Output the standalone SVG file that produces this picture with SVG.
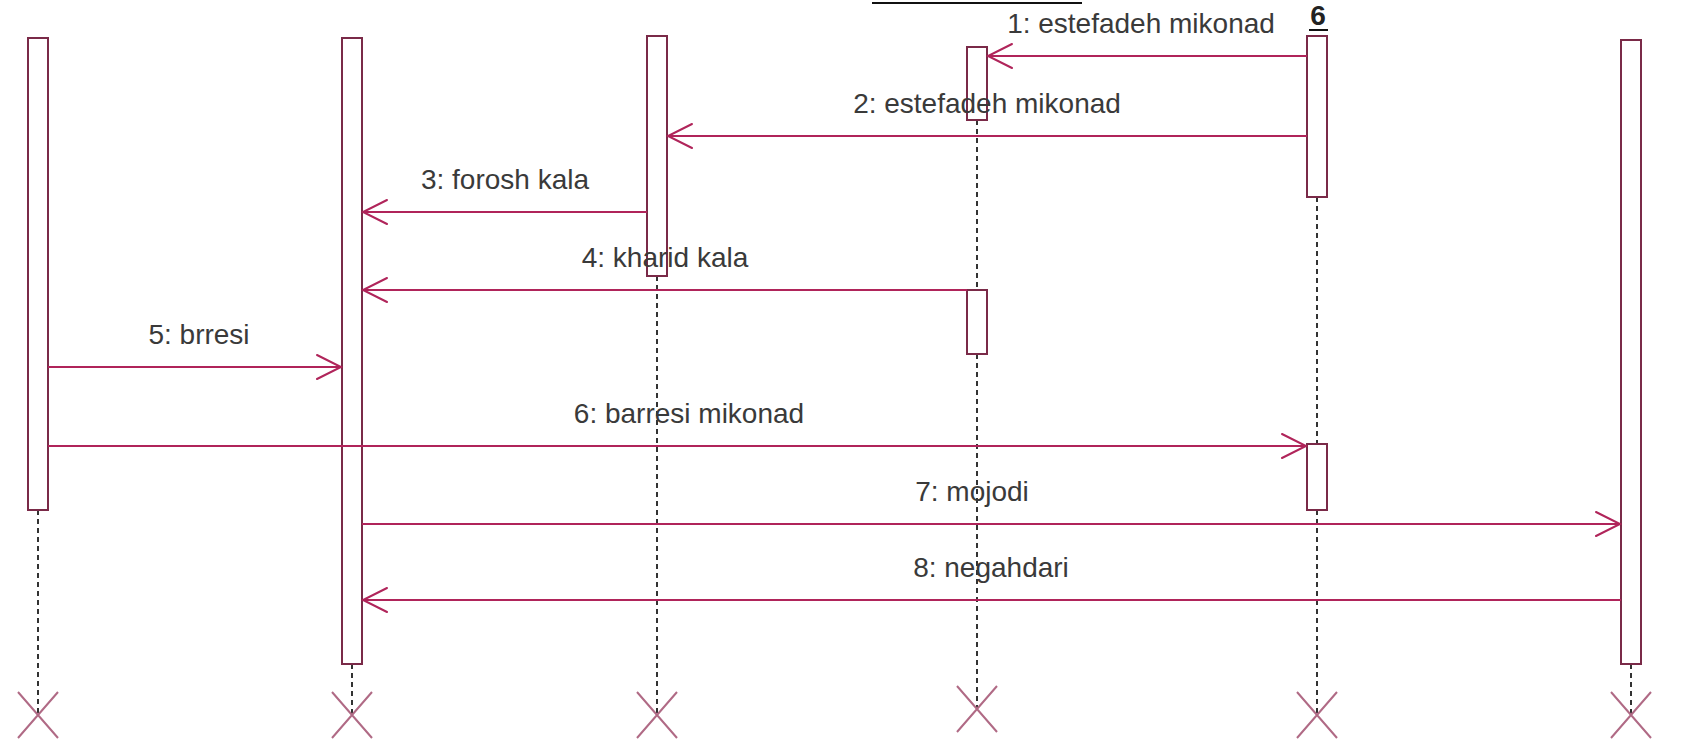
<svg xmlns="http://www.w3.org/2000/svg" width="1708" height="742" viewBox="0 0 1708 742">
<style>
.act{fill:#ffffff;stroke:#7a2a48;stroke-width:2}
.life{stroke:#333333;stroke-width:2;stroke-dasharray:5 4;fill:none}
.x{stroke:#b06a85;stroke-width:2;fill:none}
.msg{stroke:#b0245a;stroke-width:2;fill:none}
.head{stroke:#b0245a;stroke-width:2;fill:none;stroke-linecap:round}
.lbl{font-family:"Liberation Sans",Arial,sans-serif;font-size:28px;fill:#3a3a3a;text-anchor:middle}
.obj{font-family:"Liberation Sans",Arial,sans-serif;font-size:28px;font-weight:bold;fill:#222222;text-anchor:middle}
</style>
<rect width="1708" height="742" fill="#ffffff"/>

<line x1="872" y1="3" x2="1082" y2="3" stroke="#111" stroke-width="2"/>

<g id="lifeline1">
  <line class="life" x1="38" y1="510" x2="38" y2="715"/>
  <rect class="act" x="28" y="38" width="20" height="472"/>
  <path class="x" d="M18 692 L58 738 M58 692 L18 738"/>
</g>
<g id="lifeline2">
  <line class="life" x1="352" y1="664" x2="352" y2="715"/>
  <rect class="act" x="342" y="38" width="20" height="626"/>
  <path class="x" d="M332 692 L372 738 M372 692 L332 738"/>
</g>
<g id="lifeline3">
  <line class="life" x1="657" y1="276" x2="657" y2="715"/>
  <rect class="act" x="647" y="36" width="20" height="240"/>
  <path class="x" d="M637 692 L677 738 M677 692 L637 738"/>
</g>
<g id="lifeline4">
  <line class="life" x1="977" y1="120" x2="977" y2="290"/>
  <line class="life" x1="977" y1="354" x2="977" y2="709"/>
  <rect class="act" x="967" y="47" width="20" height="73"/>
  <rect class="act" x="967" y="290" width="20" height="64"/>
  <path class="x" d="M957 686 L997 732 M997 686 L957 732"/>
</g>
<g id="lifeline5">
  <text class="obj" x="1318" y="25">6</text>
  <line x1="1309" y1="30" x2="1328" y2="30" stroke="#111" stroke-width="2"/>
  <line class="life" x1="1317" y1="197" x2="1317" y2="444"/>
  <line class="life" x1="1317" y1="510" x2="1317" y2="715"/>
  <rect class="act" x="1307" y="36" width="20" height="161"/>
  <rect class="act" x="1307" y="444" width="20" height="66"/>
  <path class="x" d="M1297 692 L1337 738 M1337 692 L1297 738"/>
</g>
<g id="lifeline6">
  <line class="life" x1="1631" y1="664" x2="1631" y2="715"/>
  <rect class="act" x="1621" y="40" width="20" height="624"/>
  <path class="x" d="M1611 692 L1651 738 M1651 692 L1611 738"/>
</g>

<g id="connectors">
  <line class="msg" x1="1307" y1="56" x2="988" y2="56"/>
  <path class="head" d="M1012 44 L988 56 L1012 68"/>
  <text class="lbl" x="1141" y="33">1: estefadeh mikonad</text>

  <line class="msg" x1="1307" y1="136" x2="668" y2="136"/>
  <path class="head" d="M692 124 L668 136 L692 148"/>
  <text class="lbl" x="987" y="113">2: estefadeh mikonad</text>

  <line class="msg" x1="647" y1="212" x2="363" y2="212"/>
  <path class="head" d="M387 200 L363 212 L387 224"/>
  <text class="lbl" x="505" y="189">3: forosh kala</text>

  <line class="msg" x1="967" y1="290" x2="363" y2="290"/>
  <path class="head" d="M387 278 L363 290 L387 302"/>
  <text class="lbl" x="665" y="267">4: kharid kala</text>

  <line class="msg" x1="48" y1="367" x2="341" y2="367"/>
  <path class="head" d="M317 355 L341 367 L317 379"/>
  <text class="lbl" x="199" y="344">5: brresi</text>

  <line class="msg" x1="48" y1="446" x2="1306" y2="446"/>
  <path class="head" d="M1282 434 L1306 446 L1282 458"/>
  <text class="lbl" x="689" y="423">6: barresi mikonad</text>

  <line class="msg" x1="362" y1="524" x2="1620" y2="524"/>
  <path class="head" d="M1596 512 L1620 524 L1596 536"/>
  <text class="lbl" x="972" y="501">7: mojodi</text>

  <line class="msg" x1="1621" y1="600" x2="363" y2="600"/>
  <path class="head" d="M387 588 L363 600 L387 612"/>
  <text class="lbl" x="991" y="577">8: negahdari</text>
</g>
</svg>
